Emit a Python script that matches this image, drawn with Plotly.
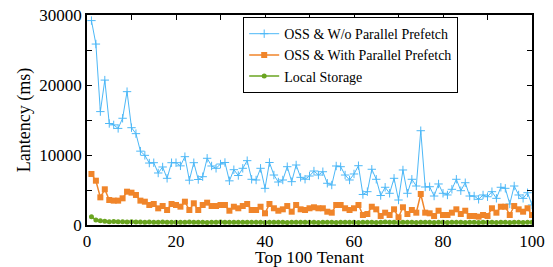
import plotly.graph_objects as go

tenants = list(range(1, 101))

oss_no_prefetch = [
    29200, 25850, 16200, 20700, 14500, 14300, 13800, 15250, 19050, 13900,
    13050, 10550, 9950, 8850, 8900, 7430, 8290, 6670, 8900, 8900,
    8450, 9760, 6400, 8900, 6500, 6900, 9530, 8430, 8100, 8710,
    8930, 6310, 7900, 7070, 8100, 9190, 6530, 6430, 8100, 5240,
    8930, 7140, 6140, 6430, 8330, 6190, 8570, 6810, 6540, 7000,
    7710, 7140, 7610, 5960, 5710, 8430, 8330, 7140, 6430, 7290,
    8470, 4360, 4760, 7960, 6530, 4210, 5390, 4530, 6670, 3570,
    7860, 4530, 6530, 5570, 13470, 5430, 5470, 4140, 5860, 4530,
    4290, 5100, 6530, 4900, 6040, 4140, 4140, 3670, 4290, 4040,
    4760, 3810, 5390, 5240, 3000, 5570, 4290, 3810, 4610, 2860,
]

oss_with_prefetch = [
    7290, 6330, 3950, 5100, 3570, 3480, 3480, 3810, 4760, 4620,
    4290, 3480, 3330, 2860, 3000, 2380, 2710, 2140, 3000, 2860,
    2620, 3330, 2140, 3100, 2140, 2860, 3190, 2710, 2710, 2860,
    2860, 2040, 2610, 2390, 2710, 3000, 2140, 2140, 2610, 1670,
    3000, 2390, 2040, 2240, 2710, 1900, 2860, 2240, 2140, 2390,
    2530, 2390, 2390, 1900, 1760, 2860, 2860, 2390, 2140, 2390,
    2860, 1430, 1570, 2610, 2240, 1290, 1760, 1430, 2240, 1100,
    2530, 1570, 2140, 1760, 4430, 1760, 1670, 1290, 2040, 1430,
    1430, 1760, 2240, 1570, 2040, 1290, 1290, 1190, 1430, 1290,
    2390, 1760, 2610, 2610, 1430, 2710, 2240, 1900, 2390, 1430,
]

local_storage = [
    1190, 710, 600, 520, 480, 500, 450, 470, 430, 460,
    420, 440, 400, 430, 410, 390, 420, 400, 380, 410,
    400, 390, 420, 380, 400, 410, 370, 400, 390, 420,
    380, 400, 410, 380, 390, 400, 380, 410, 390, 370,
    400, 380, 390, 410, 370, 400, 380, 390, 400, 380,
    410, 370, 390, 380, 400, 370, 390, 410, 380, 400,
    370, 390, 380, 400, 370, 390, 420, 380, 390, 370,
    400, 380, 390, 370, 410, 380, 390, 370, 400, 380,
    370, 390, 380, 400, 370, 390, 380, 370, 400, 380,
    390, 370, 380, 400, 370, 390, 380, 370, 390, 380,
]

series_names = ["OSS & W/o Parallel Prefetch", "OSS & With Parallel Prefetch", "Local Storage"]

BLUE = "#4db8f7"
ORANGE = "#f0852a"
GREEN = "#6aa520"
FONT = "Liberation Serif"

fig = go.Figure()
fig.add_trace(go.Scatter(
    x=tenants, y=oss_no_prefetch, name=series_names[0], mode="lines+markers",
    line=dict(color=BLUE, width=1),
    marker=dict(symbol="cross-thin-open", size=6, line=dict(color=BLUE, width=1), color=BLUE),
))
fig.add_trace(go.Scatter(
    x=tenants, y=oss_with_prefetch, name=series_names[1], mode="lines+markers",
    line=dict(color=ORANGE, width=1.5),
    marker=dict(symbol="square", size=6, color=ORANGE),
))
fig.add_trace(go.Scatter(
    x=tenants, y=local_storage, name=series_names[2], mode="lines+markers",
    line=dict(color=GREEN, width=1.5),
    marker=dict(symbol="circle", size=5, color=GREEN),
))

axis_common = dict(
    showline=True, linecolor="black", linewidth=1.5, mirror="ticks",
    ticks="inside", ticklen=5, tickwidth=1, tickcolor="black",
    showgrid=False, zeroline=False, automargin=False,
    tickfont=dict(family=FONT, size=17, color="black"),
)

fig.update_layout(
    width=553, height=267,
    margin=dict(l=87, r=21, t=15, b=42),
    paper_bgcolor="white", plot_bgcolor="white",
    font=dict(family=FONT, color="black"),
    xaxis=dict(
        range=[0, 100], dtick=20, tick0=0,
        minor=dict(dtick=10, ticks="inside", ticklen=5, tickcolor="black"),
        title=dict(text="Top 100 Tenant", font=dict(family=FONT, size=17.5), standoff=3),
        **axis_common,
    ),
    yaxis=dict(
        range=[0, 30000], dtick=10000, tick0=0, tickformat="d",
        minor=dict(dtick=5000, ticks="inside", ticklen=5, tickcolor="black"),
        title=dict(text="Lantency (ms)", font=dict(family=FONT, size=18), standoff=4),
        **axis_common,
    ),
    legend=dict(
        x=0.351, y=0.99, xanchor="left", yanchor="top",
        bgcolor="white", bordercolor="black", borderwidth=1,
        font=dict(family=FONT, size=14, color="black"),
        tracegroupgap=0, itemwidth=30,
    ),
    showlegend=True,
)

fig.write_html(
    "out.html",
    config={"displayModeBar": False},
    post_script="document.body.style.margin='0';document.body.style.overflow='hidden';",
)
